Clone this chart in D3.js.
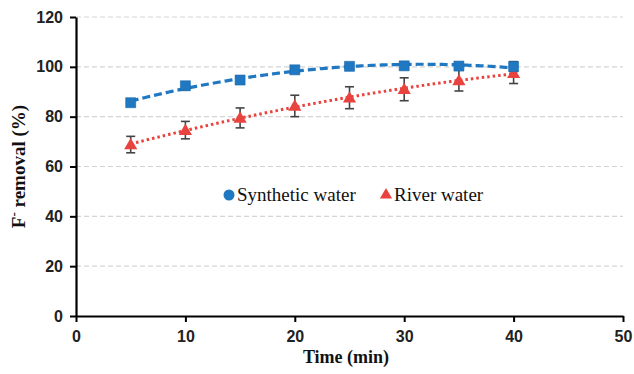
<!DOCTYPE html>
<html>
<head>
<meta charset="utf-8">
<script src="https://cdn.jsdelivr.net/npm/d3@7"></script>
<style>
  html, body { margin: 0; padding: 0; background: #fff; }
  svg { display: block; }
</style>
</head>
<body>
<div id="chart"></div>
<script>
const times     = [5, 10, 15, 20, 25, 30, 35, 40];
const synthetic = [85.6, 92.4, 94.7, 98.8, 100.2, 100.4, 100.3, 100.1];
const synthErr  = [1.4, 1.6, 1.5, 1.4, 1.2, 1.3, 1.2, 2.0];
const river     = [68.8, 74.6, 79.5, 84.3, 87.6, 91.0, 94.5, 97.4];
const riverErr  = [3.3, 3.5, 4.0, 4.3, 4.4, 4.6, 4.2, 4.1];
const xTicks    = [0, 10, 20, 30, 40, 50];
const yTicks    = [0, 20, 40, 60, 80, 100, 120];

const W = 634, H = 374;
const SERIF = '"Liberation Serif", serif';
const SANS  = '"Liberation Sans", sans-serif';

const svg = d3.select('#chart').append('svg')
  .attr('width', W).attr('height', H);

const x = d3.scaleLinear([0, 50], [76, 623]);
const y = d3.scaleLinear([0, 120], [316, 17]);

// gridlines
svg.append('g')
  .selectAll('line')
  .data(yTicks.filter(d => d > 0))
  .join('line')
  .attr('x1', x(0)).attr('x2', x(50))
  .attr('y1', d => y(d)).attr('y2', d => y(d))
  .attr('stroke', '#d4d4d4')
  .attr('stroke-width', 1.2)
  .attr('stroke-dasharray', '5,3');

// axes
const gx = svg.append('g')
  .attr('transform', `translate(0,${y(0)})`)
  .call(d3.axisBottom(x).tickValues(xTicks).tickSize(6).tickPadding(9).tickSizeOuter(0));
const gy = svg.append('g')
  .attr('transform', `translate(${x(0)},0)`)
  .call(d3.axisLeft(y).tickValues(yTicks).tickSize(6).tickPadding(7).tickSizeOuter(0));

[gx, gy].forEach(g => {
  g.select('.domain').attr('stroke', '#000').attr('stroke-width', 2.2);
  g.selectAll('.tick line').attr('stroke', '#000').attr('stroke-width', 2);
  g.selectAll('.tick text')
    .style('font-family', SANS)
    .style('font-weight', 'bold')
    .style('font-size', '16px')
    .attr('fill', '#222');
});

// quadratic least-squares trendline, as the spreadsheet draws it
function quadFit(xs, ys) {
  let s = [0, 0, 0, 0, 0], t = [0, 0, 0];
  xs.forEach((xi, i) => {
    for (let k = 0; k < 5; k++) s[k] += Math.pow(xi, k);
    for (let k = 0; k < 3; k++) t[k] += ys[i] * Math.pow(xi, k);
  });
  const A = [[s[0], s[1], s[2], t[0]], [s[1], s[2], s[3], t[1]], [s[2], s[3], s[4], t[2]]];
  for (let i = 0; i < 3; i++) {
    for (let j = i + 1; j < 3; j++) {
      const f = A[j][i] / A[i][i];
      for (let k = i; k < 4; k++) A[j][k] -= f * A[i][k];
    }
  }
  const c = [0, 0, 0];
  for (let i = 2; i >= 0; i--) {
    let v = A[i][3];
    for (let k = i + 1; k < 3; k++) v -= A[i][k] * c[k];
    c[i] = v / A[i][i];
  }
  return xv => c[0] + c[1] * xv + c[2] * xv * xv;
}

const line = d3.line().x(d => x(d[0])).y(d => y(d[1]));
const steps = d3.range(times[0], times[times.length - 1] + 0.001, 0.25);

const fitS = quadFit(times, synthetic);
const fitR = quadFit(times, river);

svg.append('path')
  .attr('d', line(steps.map(t => [t, fitR(t)])))
  .attr('fill', 'none')
  .attr('stroke', '#e8433f')
  .attr('stroke-width', 3)
  .attr('stroke-dasharray', '2.5,3');

svg.append('path')
  .attr('d', line(steps.map(t => [t, fitS(t)])))
  .attr('fill', 'none')
  .attr('stroke', '#1f78c1')
  .attr('stroke-width', 3.2)
  .attr('stroke-dasharray', '8,4');

// error bars
function errorBars(vals, errs) {
  const g = svg.append('g')
    .attr('stroke', '#444')
    .attr('stroke-width', 1.6);
  times.forEach((t, i) => {
    const cx = x(t), top = y(vals[i] + errs[i]), bot = y(vals[i] - errs[i]);
    g.append('line').attr('x1', cx).attr('x2', cx).attr('y1', top).attr('y2', bot);
    g.append('line').attr('x1', cx - 4.5).attr('x2', cx + 4.5).attr('y1', top).attr('y2', top);
    g.append('line').attr('x1', cx - 4.5).attr('x2', cx + 4.5).attr('y1', bot).attr('y2', bot);
  });
}
errorBars(river, riverErr);
errorBars(synthetic, synthErr);

const tri = d3.symbol(d3.symbolTriangle, 75);
const sq  = d3.symbol(d3.symbolSquare, 100);

svg.append('g')
  .selectAll('path')
  .data(times)
  .join('path')
  .attr('d', tri)
  .attr('transform', (t, i) => `translate(${x(t)},${y(river[i]) + 1})`)
  .attr('fill', '#e8433f');

svg.append('g')
  .selectAll('path')
  .data(times)
  .join('path')
  .attr('d', sq)
  .attr('transform', (t, i) => `translate(${x(t)},${y(synthetic[i])})`)
  .attr('fill', '#1f78c1')
  .attr('stroke', '#1a6aab')
  .attr('stroke-width', 0.6)
  .attr('stroke-linejoin', 'round');

// legend
const leg = svg.append('g').attr('transform', 'translate(0,195)');
leg.append('circle').attr('cx', 229).attr('cy', 0).attr('r', 5.5).attr('fill', '#1f78c1');
leg.append('text').attr('x', 237).attr('y', 6)
  .style('font-family', SERIF).style('font-size', '19px').attr('fill', '#111')
  .text('Synthetic water');
leg.append('path').attr('d', d3.symbol(d3.symbolTriangle, 65)())
  .attr('transform', 'translate(386,0)').attr('fill', '#e8433f');
leg.append('text').attr('x', 394).attr('y', 6)
  .style('font-family', SERIF).style('font-size', '19px').attr('fill', '#111')
  .text('River water');

// axis titles
svg.append('text')
  .attr('x', 346).attr('y', 363)
  .attr('text-anchor', 'middle')
  .style('font-family', SERIF).style('font-weight', 'bold').style('font-size', '18px')
  .attr('fill', '#111')
  .text('Time (min)');

const yt = svg.append('text')
  .attr('transform', `translate(25,${(y(0) + y(120)) / 2}) rotate(-90)`)
  .attr('text-anchor', 'middle')
  .style('font-family', SERIF).style('font-weight', 'bold').style('font-size', '19px')
  .attr('fill', '#111');
yt.append('tspan').text('F');
yt.append('tspan').attr('dy', -7).style('font-size', '13px').text('-');
yt.append('tspan').attr('dy', 7).text(' removal (%)');
</script>
</body>
</html>
